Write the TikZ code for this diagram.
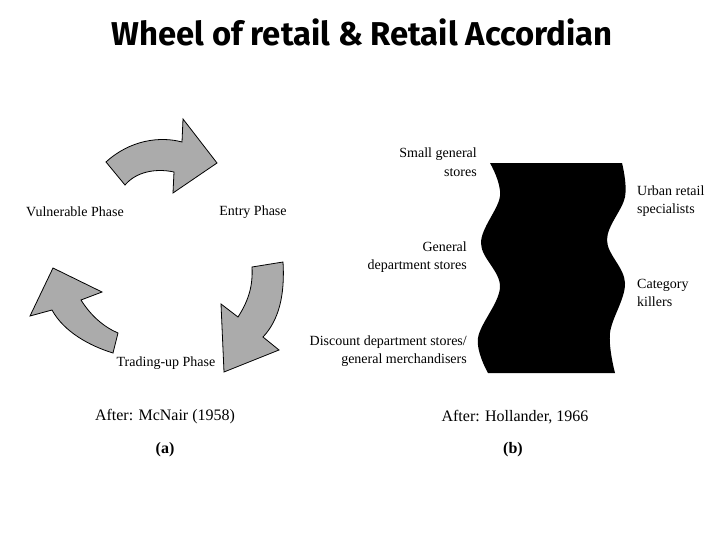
\documentclass[tikz,border=0pt]{standalone}
\usepackage{fontspec}
\setmainfont{Liberation Serif}
\newfontfamily\titlefont{Fira Sans}
\begin{document}
\begin{tikzpicture}[x=1pt,y=-1pt,
  lab/.style={inner sep=0pt, font=\fontsize{14}{18.5}\selectfont},
  captxt/.style={inner sep=0pt, font=\fontsize{16}{19}\selectfont},
  capbold/.style={inner sep=0pt, font=\bfseries\fontsize{16}{19}\selectfont},
  wheelarrow/.style={draw=black, line width=0.8pt, fill=black!33, line join=miter}]
\useasboundingbox (0,0) rectangle (728,546);
\fill[white] (0,0) rectangle (728,546);
% title
\node[inner sep=0pt, anchor=base, xscale=0.995, font=\titlefont\bfseries\fontsize{33}{36}\selectfont] (title) at (362,45) {Wheel of retail \& Retail Accordian};
% wheel of retail arrows
\draw[wheelarrow] (106,162) .. controls (130,140) and (160,136) .. (182,142)
  -- (183,119) -- (217,163) -- (173,193) -- (174,172)
  .. controls (155,168) and (136,172) .. (125,185) -- cycle;
\draw[wheelarrow] (252,267) -- (283,262) .. controls (285,295) and (279,320) .. (263,337)
  -- (279,350) -- (224,372) -- (221,304) -- (238,317)
  .. controls (249,300) and (253,285) .. cycle;
\draw[wheelarrow] (118,333) -- (113,353) .. controls (90,346) and (64,332) .. (52,310)
  -- (30,316) -- (53,268) -- (102,292) -- (81,300)
  .. controls (91,316) and (104,327) .. cycle;
\node[lab] (vul) at (75,212) {Vulnerable Phase};
\node[lab] (entry) at (253,212) {Entry Phase};
\node[lab] (trade) at (166,363) {Trading-up Phase};
% retail accordion
\fill[black] plot[smooth, tension=0.6] coordinates {(490,163) (500,196) (481,243) (500,287) (478,338) (488,373)}
  -- plot[smooth, tension=0.6] coordinates {(615,373) (610,333) (625,283) (607,240) (625,197) (622,163)} -- cycle;
\node[lab, anchor=east, align=right] (small) at (477,162) {Small general\\stores};
\node[lab, anchor=east, align=right] (gen) at (467,257) {General\\department stores};
\node[lab, anchor=east, align=right] (disc) at (467,351) {Discount department stores/\\general merchandisers};
\node[lab, anchor=west, align=left] (urban) at (637,201) {Urban retail\\specialists};
\node[lab, anchor=west, align=left] (cat) at (637,293) {Category\\killers};
% captions
\node[captxt] (capa) at (165,417) {After: McNair (1958)};
\node[capbold] (a) at (165,450) {(a)};
\node[captxt] (capb) at (515,417) {After: Hollander, 1966};
\node[capbold] (b) at (513,450) {(b)};
\end{tikzpicture}
\end{document}
